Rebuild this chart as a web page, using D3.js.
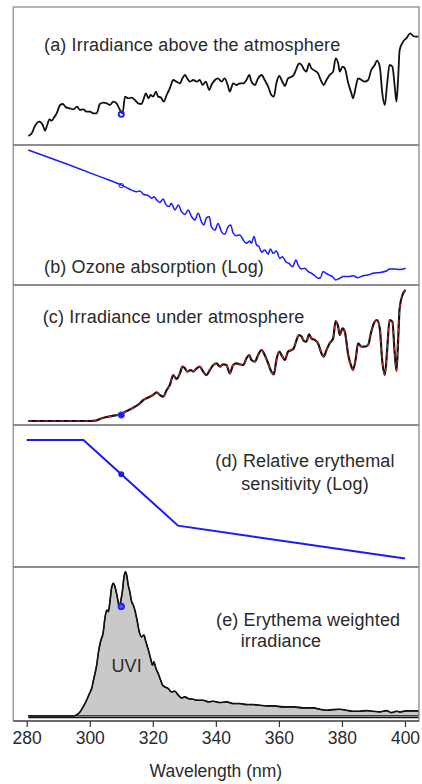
<!DOCTYPE html>
<html><head><meta charset="utf-8">
<script src="https://cdn.jsdelivr.net/npm/d3@7"></script>
<style>html,body{margin:0;padding:0;background:#fff;}svg{display:block;font-family:"Liberation Sans",Arial,Helvetica,sans-serif;}</style>
</head><body>
<svg id="chart" width="422" height="784"></svg>
<script>
// ---------- DATA ----------
const xTicks = [280, 300, 320, 340, 360, 380, 400];
const markerWl = 310;

// (a) extraterrestrial irradiance (relative units)
const wlA = [280.5,281.6,282.6,284.0,285.1,285.8,286.5,287.2,287.9,288.7,289.5,290.6,291.4,292.5,293.7,294.8,296.0,296.9,297.9,299.0,300.1,301.1,302.2,303.2,304.3,305.4,306.4,307.5,308.5,309.6,310.4,311.2,312.2,313.3,314.3,315.4,316.4,317.0,317.8,318.6,319.3,320.1,321.0,321.7,322.5,323.5,324.4,325.4,326.5,327.5,328.6,329.4,330.2,330.9,331.8,332.8,333.9,334.9,335.8,336.8,337.9,338.6,339.7,340.7,341.8,342.8,343.9,344.4,345.5,346.5,347.6,348.7,349.7,350.6,351.3,352.4,353.4,354.5,355.5,356.6,357.6,358.4,359.2,360.1,361.1,361.9,362.9,364.0,364.7,365.6,366.4,367.2,367.9,368.7,369.6,370.3,371.4,372.4,373.5,374.2,375.1,376.1,377.2,378.0,378.8,379.3,380.2,380.9,382.0,383.0,383.5,384.4,385.1,386.2,387.2,388.3,389.3,390.4,391.1,392.0,392.8,393.6,394.3,395.1,396.0,396.7,397.3,397.8,398.3,399.4,400.4,401.7,402.6,403.6,404.4];
const irrA = [0.135,0.175,0.285,0.35,0.30,0.215,0.30,0.385,0.365,0.415,0.475,0.60,0.615,0.565,0.55,0.535,0.575,0.525,0.535,0.50,0.50,0.475,0.475,0.615,0.635,0.625,0.60,0.65,0.625,0.525,0.475,0.725,0.70,0.71,0.675,0.625,0.615,0.675,0.775,0.70,0.75,0.725,0.80,0.725,0.715,0.65,0.75,0.85,0.975,0.95,0.925,1.0,1.05,1.0,0.95,0.975,0.95,0.975,0.90,0.95,0.825,0.90,0.975,1.0,0.95,1.0,0.875,0.80,0.925,0.90,0.925,0.925,0.975,1.05,0.95,0.90,1.0,1.05,0.975,0.875,0.75,0.725,0.925,1.035,0.95,0.885,1.0,1.025,1.05,1.15,1.225,1.20,1.135,1.10,1.225,1.15,1.115,1.075,0.95,0.90,0.975,1.05,1.10,1.30,1.225,1.10,1.175,1.15,0.925,0.775,0.70,0.875,1.0,0.975,0.95,0.975,1.125,1.20,1.265,1.175,0.775,0.60,0.90,1.20,1.175,0.90,0.65,0.975,1.425,1.55,1.60,1.675,1.635,1.625,1.625];
const markA = 0.46;

// (b) ozone absorption, log10 relative
const wlB = [280.5,292.7,303.2,310.4,311.7,313.3,314.9,315.9,317.0,318.6,319.6,320.4,321.2,322.2,323.3,324.1,325.2,325.9,327.0,328.1,329.1,330.2,331.2,332.3,333.3,334.4,335.5,336.2,337.0,337.9,338.6,339.7,340.7,341.8,342.8,343.9,344.7,345.5,346.5,347.6,348.7,349.7,350.8,351.3,352.1,352.9,353.7,354.5,355.5,356.6,357.3,358.2,359.2,360.3,361.1,362.2,363.2,364.3,365.4,366.1,367.1,368.2,369.3,370.3,371.4,372.4,373.2,374.0,374.9,375.9,377.0,378.0,379.3,380.4,382.0,383.5,385.1,386.7,388.3,389.9,392.0,394.1,395.1,396.7,398.3,400.2];
const ozoneB = [-0.18,-0.68,-1.13,-1.45,-1.52,-1.61,-1.67,-1.64,-1.76,-1.81,-1.90,-1.85,-1.96,-2.05,-1.93,-2.12,-2.20,-2.08,-2.32,-2.14,-2.38,-2.48,-2.32,-2.56,-2.68,-2.44,-2.76,-2.86,-2.60,-2.56,-2.92,-3.04,-2.80,-3.10,-3.19,-2.92,-2.86,-3.15,-3.24,-3.21,-3.39,-3.51,-3.43,-3.51,-3.27,-3.57,-3.63,-3.83,-3.75,-3.90,-3.71,-3.87,-3.79,-4.05,-3.99,-4.17,-4.23,-4.35,-4.11,-4.29,-4.43,-4.40,-4.52,-4.58,-4.67,-4.76,-4.74,-4.52,-4.58,-4.64,-4.70,-4.82,-4.76,-4.70,-4.70,-4.67,-4.74,-4.67,-4.64,-4.58,-4.55,-4.50,-4.43,-4.43,-4.45,-4.40];
const markB = -1.45;

// (c) irradiance under the atmosphere (relative units)
const wlC = [280.5,300.1,302.2,303.2,305.4,307.5,309.6,311.7,313.8,314.9,315.9,317.0,318.0,319.1,320.1,321.2,322.2,323.3,324.4,325.4,326.5,327.5,328.6,329.4,330.2,330.9,332.0,332.8,333.9,334.9,336.0,337.0,338.1,339.2,340.2,341.3,342.3,343.4,344.4,345.5,346.5,347.6,348.7,349.7,350.6,351.3,352.4,353.4,354.5,355.5,356.6,357.6,358.4,359.2,360.1,361.1,361.9,362.9,364.0,364.7,365.6,366.4,367.2,367.9,368.7,369.6,370.3,371.4,372.4,373.5,374.2,375.1,376.1,377.2,378.0,378.8,379.3,380.2,380.9,382.0,383.0,383.5,384.4,385.1,386.2,387.2,388.3,389.3,390.4,391.1,392.0,392.8,393.6,394.3,395.1,396.0,396.7,397.3,397.8,398.3,399.4,400.2];
const irrC = [0,0,0.01,0.03,0.06,0.08,0.10,0.15,0.20,0.23,0.265,0.315,0.34,0.365,0.39,0.43,0.39,0.365,0.465,0.54,0.69,0.63,0.715,0.815,0.79,0.74,0.765,0.74,0.79,0.815,0.74,0.69,0.765,0.84,0.865,0.815,0.85,0.84,0.715,0.84,0.865,0.85,0.84,0.94,0.99,0.915,0.89,0.99,1.065,0.99,0.865,0.74,0.70,0.915,1.04,0.965,0.915,1.04,1.065,1.09,1.215,1.29,1.265,1.20,1.19,1.30,1.24,1.215,1.165,1.015,0.965,1.065,1.165,1.24,1.50,1.415,1.29,1.39,1.34,0.99,0.815,0.765,0.94,1.165,1.115,1.115,1.14,1.34,1.49,1.515,1.39,0.89,0.69,1.04,1.515,1.49,1.04,0.75,1.19,1.69,1.915,1.965];
const markC = 0.09;

// (d) relative erythemal sensitivity (CIE action spectrum breakpoints)
const wlD = [280, 298, 328, 400];
const sensD = [1, 1, 0.00151, 0.000126];
const markD = 0.0745;

// (e) erythema weighted irradiance
const wlE = [280.5,294.8,296.0,296.9,297.9,299.0,299.9,300.6,301.3,302.2,302.7,303.4,304.3,304.8,305.4,305.9,306.4,306.9,307.5,308.0,308.5,309.1,309.4,309.8,310.4,310.8,311.3,311.7,312.2,312.7,313.3,313.8,314.3,315.1,315.7,316.4,317.2,317.8,318.6,319.3,319.9,320.3,321.0,321.7,322.5,323.1,323.8,324.9,325.9,327.0,328.1,329.1,330.2,331.2,332.8,334.4,336.0,337.6,339.2,341.3,343.4,345.5,347.6,349.7,351.8,353.9,356.1,358.2,361.3,364.5,367.7,370.9,373.0,375.1,377.2,379.3,381.4,383.5,385.6,387.7,389.9,392.0,394.1,395.7,397.3,398.3,400.4,404.4];
const eryE = [0,0,0.10,0.30,0.675,1.175,1.675,2.05,2.80,3.80,4.675,5.55,6.30,7.30,7.925,7.80,8.55,9.55,9.925,9.675,9.175,8.425,8.05,8.55,9.425,10.30,10.80,10.55,9.80,9.30,8.55,8.30,7.925,7.05,6.30,5.925,6.05,5.55,4.925,4.30,3.80,4.05,3.55,3.175,2.675,2.30,2.175,2.05,1.80,1.85,1.55,1.35,1.425,1.30,1.25,1.175,1.175,1.05,1.10,1.00,1.05,0.925,0.925,0.85,0.85,0.80,0.75,0.75,0.675,0.675,0.60,0.60,0.50,0.425,0.475,0.50,0.425,0.35,0.35,0.40,0.35,0.30,0.40,0.25,0.35,0.30,0.375,0.375];
const markE = 8.2;

const labels = {
  a: ["(a) Irradiance above the atmosphere"],
  b: ["(b) Ozone absorption (Log)"],
  c: ["(c) Irradiance under atmosphere"],
  d: ["(d) Relative erythemal", "sensitivity (Log)"],
  e: ["(e) Erythema weighted", "irradiance"],
  uvi: "UVI",
  xTitle: "Wavelength (nm)"
};

// ---------- LAYOUT ----------
const svg = d3.select("#chart");
const L = 13.3, R = 419;
const tops = [7, 145, 285, 425, 567];
const bots = [145, 285, 425, 567, 721];
const textCol = "#2a2a2a";

const x = d3.scaleLinear().domain([280, 400]).range([26.7, 405]);

const yA = d3.scaleLinear().domain([0, 2.1]).range([145, 5]);
const yB = d3.scaleLinear().domain([-5, 0]).range([285, 145]);
const yC = d3.scaleLinear().domain([-0.06, 2.04]).range([425, 285]);
const yD = d3.scaleLog().domain([Math.pow(10, 0.49), Math.pow(10, -4.18)]).range([425, 567]);
const yE = d3.scaleLinear().domain([-0.38, 11.15]).range([721, 567]);

const defs = svg.append("defs");
tops.forEach((t, i) => {
  defs.append("clipPath").attr("id", "clip" + i)
    .append("rect").attr("x", L).attr("y", t).attr("width", R - L).attr("height", bots[i] - t);
});

function lineOf(xs, ys, ysc, curve) {
  return d3.line().x((d, i) => x(xs[i])).y((d, i) => ysc(ys[i])).curve(curve || d3.curveMonotoneX)(ys);
}

// (e) area fill
const gE = svg.append("g").attr("clip-path", "url(#clip4)");
const areaE = d3.area().x((d, i) => x(wlE[i])).y0(yE(0)).y1((d, i) => yE(eryE[i])).curve(d3.curveMonotoneX);
gE.append("path").attr("d", areaE(eryE)).attr("fill", "#c9c9c9").attr("stroke", "#111").attr("stroke-width", 1.2);
gE.append("path").attr("d", lineOf(wlE, eryE, yE)).attr("fill", "none").attr("stroke", "#111").attr("stroke-width", 1.6);
gE.append("line").attr("x1", x(wlE[0])).attr("x2", R).attr("y1", yE(0) + 1.8).attr("y2", yE(0) + 1.8).attr("stroke", "#111").attr("stroke-width", 1.2);

// (a)
const gA = svg.append("g").attr("clip-path", "url(#clip0)");
gA.append("path").attr("d", lineOf(wlA, irrA, yA)).attr("fill", "none").attr("stroke", "#111").attr("stroke-width", 1.8);
gA.append("circle").attr("cx", x(markerWl)).attr("cy", yA(markA)).attr("r", 2.6).attr("fill", "none").attr("stroke", "#1a1aff").attr("stroke-width", 1.8);

// (b)
const gB = svg.append("g").attr("clip-path", "url(#clip1)");
gB.append("path").attr("d", lineOf(wlB, ozoneB, yB)).attr("fill", "none").attr("stroke", "#1a1aff").attr("stroke-width", 1.5);
gB.append("circle").attr("cx", x(markerWl)).attr("cy", yB(markB)).attr("r", 2.2).attr("fill", "none").attr("stroke", "#1a1aff").attr("stroke-width", 1);

// (c)
const gC = svg.append("g").attr("clip-path", "url(#clip2)");
gC.append("path").attr("d", lineOf(wlC, irrC, yC)).attr("fill", "none").attr("stroke", "#111").attr("stroke-width", 2.2);
gC.append("path").attr("d", lineOf(wlC, irrC, yC)).attr("fill", "none").attr("stroke", "#d42020").attr("stroke-width", 1.1).attr("stroke-dasharray", "4,4");
gC.append("circle").attr("cx", x(markerWl)).attr("cy", yC(markC)).attr("r", 3.2).attr("fill", "#1a1aff").attr("stroke", "#4444ff").attr("stroke-width", 0.8);

// (d)
const gD = svg.append("g").attr("clip-path", "url(#clip3)");
gD.append("path").attr("d", lineOf(wlD, sensD, yD, d3.curveLinear)).attr("fill", "none").attr("stroke", "#1a1aff").attr("stroke-width", 2);
gD.append("circle").attr("cx", x(markerWl)).attr("cy", yD(markD)).attr("r", 3).attr("fill", "#2222cc");

// (e) marker
gE.append("circle").attr("cx", x(markerWl)).attr("cy", yE(markE)).attr("r", 2.8).attr("fill", "#5555ff").attr("stroke", "#1a1aff").attr("stroke-width", 1.6);

// panel frames
tops.forEach((t, i) => {
  const b = bots[i];
  svg.append("path").attr("d", `M${L},${b}V${t}H${R}V${b}`).attr("fill", "none").attr("stroke", "#9a9a9a").attr("stroke-width", 1.5);
  svg.append("line").attr("x1", L).attr("x2", R).attr("y1", b).attr("y2", b).attr("stroke", "#3a3a3a").attr("stroke-width", 1.5);
});

// texts
const fs = 18;
function txt(s, tx, ty, anchor, size) {
  svg.append("text").attr("x", tx).attr("y", ty).attr("text-anchor", anchor || "start")
    .attr("font-size", size || fs).attr("letter-spacing", "0.15px").attr("fill", textCol).text(s);
}
txt(labels.a[0], 44, 51);
txt(labels.b[0], 44, 273);
txt(labels.c[0], 42.7, 323);
txt(labels.d[0], 305, 467, "middle");
txt(labels.d[1], 305, 490, "middle");
txt(labels.e[0], 216, 626);
txt(labels.e[1], 240.7, 647);
txt(labels.uvi, 126.7, 672, "middle");

// x axis
const axis = d3.axisBottom(x).tickValues(xTicks).tickSize(6).tickPadding(5);
const gx = svg.append("g").attr("transform", `translate(0,${bots[4]})`).call(axis);
gx.select(".domain").remove();
gx.selectAll(".tick line").attr("stroke", "#333").attr("stroke-width", 1.2);
gx.selectAll(".tick text").attr("font-size", 17.5).attr("fill", textCol).attr("font-family", '"Liberation Sans",Arial,sans-serif');
svg.append("text").attr("x", (x(280) + x(400)) / 2).attr("y", 777).attr("text-anchor", "middle")
  .attr("font-size", 17.5).attr("fill", textCol).text(labels.xTitle);
</script>
</body></html>
